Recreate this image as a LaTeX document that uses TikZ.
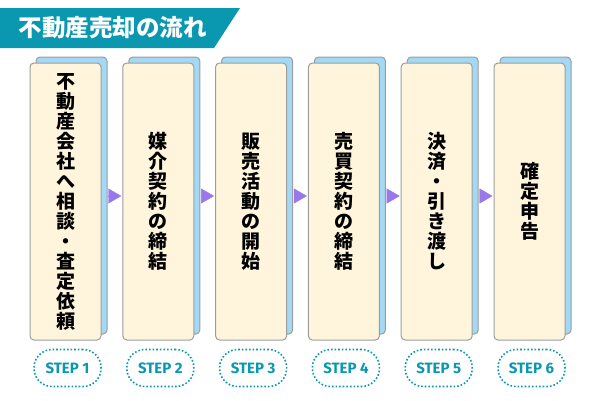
\documentclass[tikz,border=0pt]{standalone}
\usepackage{fontspec}
\setmainfont{Noto Sans CJK JP}
\newfontfamily\stepfont{Fira Sans}
\usetikzlibrary{arrows.meta}
\definecolor{FlowTeal}{HTML}{0A97B0}
\definecolor{CardCream}{HTML}{FFF5DC}
\definecolor{CardSky}{HTML}{A3D9F5}
\definecolor{CardEdge}{HTML}{9C9C9C}
\definecolor{GoPurple}{HTML}{9A78EC}
\begin{document}
\begin{tikzpicture}[x=1pt,y=-1pt,
      back/.style={draw=CardEdge,fill=CardSky,rounded corners=4pt,line width=1pt,
                   minimum width=71pt,minimum height=277pt,inner sep=0pt},
      card/.style={draw=CardEdge,fill=CardCream,rounded corners=4pt,line width=1pt,
                   minimum width=71pt,minimum height=277pt,inner sep=0pt,align=center,
                   font=\fontsize{19}{20}\selectfont\bfseries},
      steptag/.style={draw=FlowTeal,dotted,line width=1.6pt,rounded corners=18pt,
                      minimum width=67pt,minimum height=37pt,text=FlowTeal,
                      font=\stepfont\fontsize{15}{16}\selectfont\bfseries},
      go/.style={-{Triangle[length=13pt,width=15pt]},GoPurple,line width=0.4pt,
                 shorten <=2pt,shorten >=1pt}]
    \useasboundingbox (0,0) rectangle (600,400);
    \fill[FlowTeal] (0,8) -- (240,8) -- (214,48) -- (0,48) -- cycle;
    \node[anchor=west,text=white,font=\fontsize{23.5}{26}\selectfont\bfseries] (title) at (15,28) {不動産売却の流れ};
    \node[back] (b1) at (71.5,195.5) {};
    \node[back] (b2) at (164.3,195.5) {};
    \node[back] (b3) at (257.1,195.5) {};
    \node[back] (b4) at (349.9,195.5) {};
    \node[back] (b5) at (442.7,195.5) {};
    \node[back] (b6) at (535.5,195.5) {};
    \node[card] (c1) at (65.5,201.5)  {不\\動\\産\\会\\社\\へ\\相\\談\\・\\査\\定\\依\\頼};
    \node[card] (c2) at (158.3,201.5) {媒\\介\\契\\約\\の\\締\\結};
    \node[card] (c3) at (251.1,201.5) {販\\売\\活\\動\\の\\開\\始};
    \node[card] (c4) at (343.9,201.5) {売\\買\\契\\約\\の\\締\\結};
    \node[card] (c5) at (436.7,201.5) {決\\済\\・\\引\\き\\渡\\し};
    \node[card] (c6) at (529.5,201.5) {確\\定\\申\\告};
    \draw[go] (b1.east |- 0,196) -- (c2.west |- 0,196);
    \draw[go] (b2.east |- 0,196) -- (c3.west |- 0,196);
    \draw[go] (b3.east |- 0,196) -- (c4.west |- 0,196);
    \draw[go] (b4.east |- 0,196) -- (c5.west |- 0,196);
    \draw[go] (b5.east |- 0,196) -- (c6.west |- 0,196);
    \node[steptag] (s1) at (67.5,368)  {STEP 1};
    \node[steptag] (s2) at (160.3,368) {STEP 2};
    \node[steptag] (s3) at (253.1,368) {STEP 3};
    \node[steptag] (s4) at (345.9,368) {STEP 4};
    \node[steptag] (s5) at (438.7,368) {STEP 5};
    \node[steptag] (s6) at (531.5,368) {STEP 6};
  \end{tikzpicture}
\end{document}
